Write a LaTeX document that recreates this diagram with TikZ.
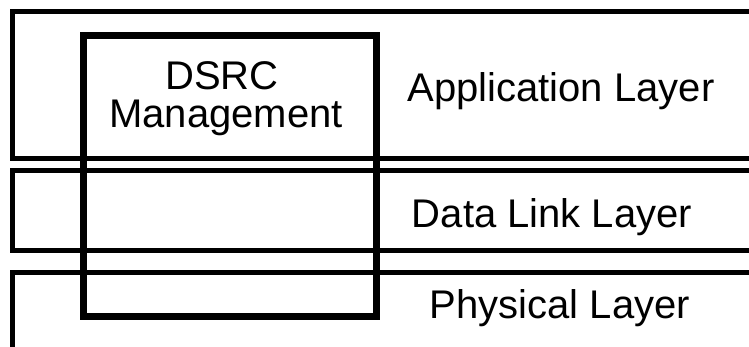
\documentclass[tikz,border=0pt]{standalone}
\usepackage{fontspec}
\setmainfont{Liberation Sans}
\begin{document}
\begin{tikzpicture}[x=1pt,y=-1pt,
  layerline/.style={line width=5pt, line join=miter},
  mgmtbox/.style={line width=7pt, line join=miter},
  lbl/.style={anchor=base, inner sep=0pt, font=\fontsize{40}{48}\selectfont}]
\useasboundingbox (0,0) rectangle (749,347);
\fill[white] (0,0) rectangle (749,347);
% layer outlines (open to the right)
\draw[layerline] (749,12) -- (12.5,12) -- (12.5,158.5) -- (749,158.5);
\draw[layerline] (749,171) -- (12.5,171) -- (12.5,251) -- (749,251);
\draw[layerline] (749,272) -- (12.5,272) -- (12.5,347);
% DSRC management box
\draw[mgmtbox] (83.5,36) rectangle (376,316.5);
% labels
\node[lbl] (dsrc) at (222,90) {DSRC};
\node[lbl] (mgmt) at (226,128) {Management};
\node[lbl] (app) at (561,102) {Application Layer};
\node[lbl] (dll) at (552,228) {Data Link Layer};
\node[lbl] (phy) at (560,318) {Physical Layer};
\end{tikzpicture}
\end{document}
